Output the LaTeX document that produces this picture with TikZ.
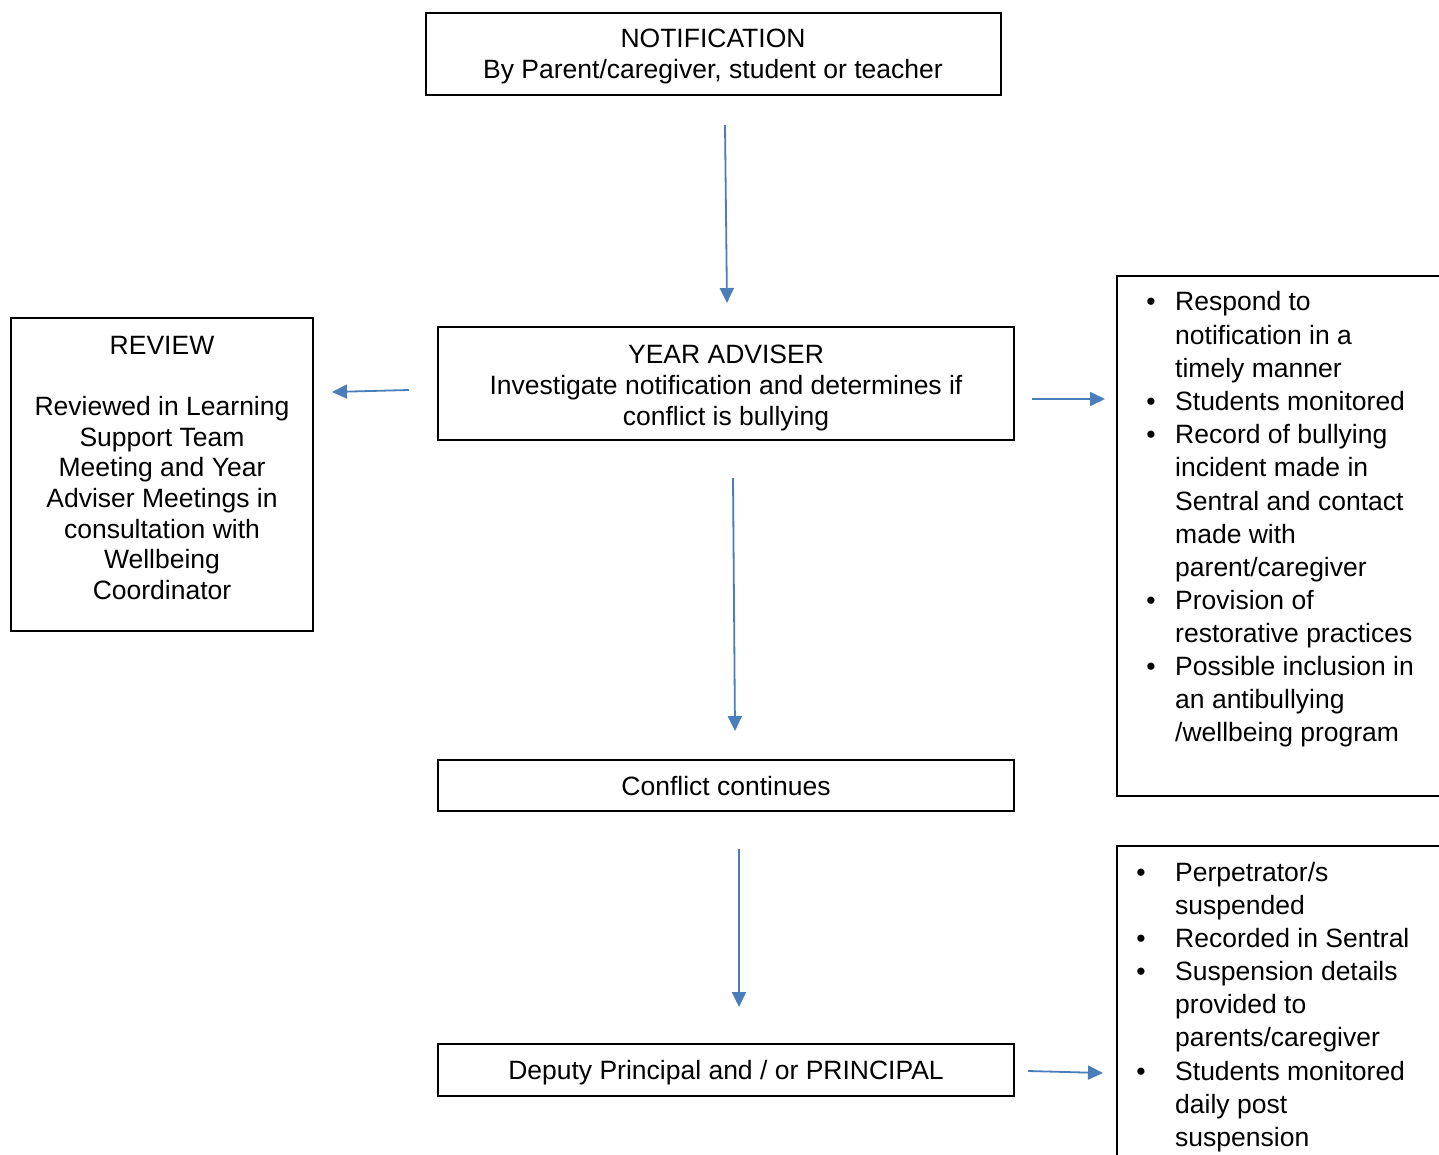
\documentclass[tikz,border=0pt]{standalone}
\usepackage{fontspec}
\setmainfont{Liberation Sans}
\usetikzlibrary{arrows.meta}
\definecolor{arrowblue}{HTML}{4A7EBB}
\begin{document}
\begin{tikzpicture}[x=1pt,y=-1pt,
 box/.style={draw=black,line width=1.8pt,inner sep=0pt},
 txt/.style={font=\fontsize{26.5}{31}\selectfont,inner sep=0pt,anchor=base},
 ltxt/.style={txt,anchor=base west},
 conn/.style={draw=arrowblue,line width=1.8pt,-{Triangle[length=15pt,width=14pt]}}]
\clip (0,0) rectangle (1439,1155);
\fill[white] (0,0) rectangle (1439,1155);
% boxes
\node[box,minimum width=575pt,minimum height=82pt] (notif) at (713.5,54) {};
\node[box,minimum width=576pt,minimum height=113pt] (year) at (726,383.5) {};
\node[box,minimum width=302pt,minimum height=313pt] (review) at (162,474.5) {};
\node[box,minimum width=576pt,minimum height=51pt] (conflict) at (726,785.5) {};
\node[box,minimum width=576pt,minimum height=52pt] (deputy) at (726,1070) {};
\node[box,minimum width=333pt,minimum height=520pt] (actions) at (1283.5,536) {};
\node[box,minimum width=333pt,minimum height=324pt] (susp) at (1283.5,1008) {};
% centre texts
\node[txt] (t1a) at (713,48) {NOTIFICATION};
\node[txt] (t1b) at (713,79) {By Parent/caregiver, student or teacher};
\node[txt] (t2a) at (726,363) {YEAR ADVISER};
\node[txt] (t2b) at (726,394) {Investigate notification and determines if};
\node[txt] (t2c) at (726,425) {conflict is bullying};
\node[txt] (t3a) at (162,354) {REVIEW};
\node[txt] (t3b) at (162,415) {Reviewed in Learning};
\node[txt] (t3c) at (162,446) {Support Team};
\node[txt] (t3d) at (162,476) {Meeting and Year};
\node[txt] (t3e) at (162,507) {Adviser Meetings in};
\node[txt] (t3f) at (162,538) {consultation with};
\node[txt] (t3g) at (162,568) {Wellbeing};
\node[txt] (t3h) at (162,599) {Coordinator};
\node[txt] (t4) at (726,795) {Conflict continues};
\node[txt] (t5) at (726,1079) {Deputy Principal and / or PRINCIPAL};
% right list 1
\node[txt] (b1) at (1151,311) {•};
\node[ltxt] (r1) at (1175,311) {Respond to};
\node[ltxt] (r2) at (1175,344) {notification in a};
\node[ltxt] (r3) at (1175,377) {timely manner};
\node[txt] (b2) at (1151,410) {•};
\node[ltxt] (r4) at (1175,410) {Students monitored};
\node[txt] (b3) at (1151,443) {•};
\node[ltxt] (r5) at (1175,443) {Record of bullying};
\node[ltxt] (r6) at (1175,476) {incident made in};
\node[ltxt] (r7) at (1175,510) {Sentral and contact};
\node[ltxt] (r8) at (1175,543) {made with};
\node[ltxt] (r9) at (1175,576) {parent/caregiver};
\node[txt] (b4) at (1151,609) {•};
\node[ltxt] (r10) at (1175,609) {Provision of};
\node[ltxt] (r11) at (1175,642) {restorative practices};
\node[txt] (b5) at (1151,675) {•};
\node[ltxt] (r12) at (1175,675) {Possible inclusion in};
\node[ltxt] (r13) at (1175,708) {an antibullying};
\node[ltxt] (r14) at (1175,741) {/wellbeing program};
% right list 2
\node[txt] (c1) at (1141,881) {•};
\node[ltxt] (s1) at (1175,881) {Perpetrator/s};
\node[ltxt] (s2) at (1175,914) {suspended};
\node[txt] (c2) at (1141,947) {•};
\node[ltxt] (s3) at (1175,947) {Recorded in Sentral};
\node[txt] (c3) at (1141,980) {•};
\node[ltxt] (s4) at (1175,980) {Suspension details};
\node[ltxt] (s5) at (1175,1013) {provided to};
\node[ltxt] (s6) at (1175,1046) {parents/caregiver};
\node[txt] (c4) at (1141,1080) {•};
\node[ltxt] (s7) at (1175,1080) {Students monitored};
\node[ltxt] (s8) at (1175,1113) {daily post};
\node[ltxt] (s9) at (1175,1146) {suspension};
% arrow end points
\coordinate (a1s) at (725,125); \coordinate (a1e) at (727,303);
\coordinate (a2s) at (409,390); \coordinate (a2e) at (332,392);
\coordinate (a3s) at (1032,399); \coordinate (a3e) at (1105,399);
\coordinate (a4s) at (733,478); \coordinate (a4e) at (735,731);
\coordinate (a5s) at (739,849); \coordinate (a5e) at (739,1007);
\coordinate (a6s) at (1028,1071); \coordinate (a6e) at (1103,1073);
\draw[conn] (a1s) -- (a1e);
\draw[conn] (a2s) -- (a2e);
\draw[conn] (a3s) -- (a3e);
\draw[conn] (a4s) -- (a4e);
\draw[conn] (a5s) -- (a5e);
\draw[conn] (a6s) -- (a6e);
\end{tikzpicture}
\end{document}
